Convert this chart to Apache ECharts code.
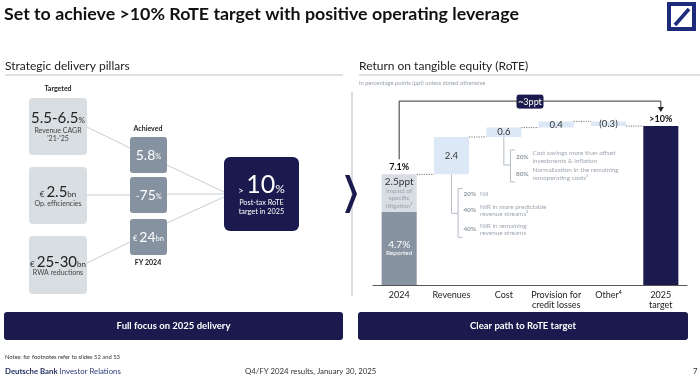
<!DOCTYPE html>
<html><head><meta charset="utf-8">
<script src="https://cdn.jsdelivr.net/npm/echarts@6/dist/echarts.min.js"></script>
<style>html,body{margin:0;padding:0;background:#fff}#c{width:700px;height:378px}</style>
</head><body><div id="c"></div>
<script>
// ---- data ----
const categories = ['2024', 'Revenues', 'Cost', 'Provision for\ncredit losses', 'Other⁴', '2025\ntarget'];
const rote2024 = 7.1;
const reported2024 = 4.7;
const litigationLabel = '2.5ppt';
const deltas = [2.4, 0.6, 0.4, -0.3];
const deltaLabels = ['2.4', '0.6', '0.4', '(0.3)'];
const target2025 = 10.2;
const targetLabel = '>10%';
const bridgeLabel = '~3ppt';
const revenueSplit = [['20%', 'NII'], ['40%', 'NIR in more predictable\nrevenue streams²'], ['40%', 'NIR in remaining\nrevenue streams']];
const costSplit = [['20%', 'Cost savings more than offset\ninvestments & inflation'], ['80%', 'Normalization in the remaining\nnonoperating costs³']];
const targetedPillars = [['5.5-6.5', '', '%', 'Revenue CAGR\n\'21-\'25'], ['2.5', '€ ', 'bn', 'Op. efficiencies'], ['25-30', '€ ', 'bn', 'RWA reductions']];
const achievedPillars = [['5.8', '', '%'], ['75', '~', '%'], ['24', '€ ', 'bn']];

// ---- build ----
const FF = 'Lato, "Noto Sans", sans-serif';
const NAVY = '#1a1a4e';
const r1 = v => Math.round(v * 10) / 10;
const n = categories.length;
const base = new Array(n).fill('-');
const deltaBars = new Array(n).fill('-');
const levels = [rote2024];
let run = rote2024;
deltas.forEach((d, i) => {
  const next = r1(run + d);
  base[i + 1] = Math.min(run, next);
  deltaBars[i + 1] = Math.abs(d);
  run = next; levels.push(run);
});
base[0] = 0; base[n - 1] = 0;
const repArr = new Array(n).fill('-'); repArr[0] = reported2024;
const litArr = new Array(n).fill('-'); litArr[0] = r1(rote2024 - reported2024);
const tgtArr = new Array(n).fill('-'); tgtArr[n - 1] = target2025;

const chart = echarts.init(document.getElementById('c'), null, {renderer: 'canvas'});
const option = {
  animation: false,
  grid: {left: 373, right: 13, top: 98, bottom: 93},
  xAxis: {type: 'category', data: categories,
    axisLine: {lineStyle: {color: '#555', width: 1}}, axisTick: {show: false},
    axisLabel: {color: '#222', fontSize: 9, lineHeight: 10, fontFamily: FF, margin: 5, interval: 0}},
  yAxis: {type: 'value', min: 0, max: 12, show: false, splitLine: {show: false}},
  series: [
    {type: 'bar', stack: 'w', data: base, barWidth: '67%', itemStyle: {color: 'transparent'}, silent: true},
    {type: 'bar', stack: 'w', data: repArr, barWidth: '67%', itemStyle: {color: '#8793a0'},
      label: {show: true, position: 'inside', formatter: '{a|' + reported2024.toFixed(1) + '%}\n{b|Reported}',
        rich: {a: {color: '#fff', fontSize: 10, fontFamily: FF, lineHeight: 10}, b: {color: '#fff', fontSize: 6.5, fontFamily: FF, lineHeight: 8}}}},
    {type: 'bar', stack: 'w', data: litArr, barWidth: '67%', itemStyle: {color: '#d7dde2'},
      label: {show: true, position: 'inside', formatter: '{a|' + litigationLabel + '}\n{b|Impact of}\n{b|specific}\n{b|litigation²}',
        rich: {a: {color: '#333', fontSize: 10, fontFamily: FF, lineHeight: 10}, b: {color: '#9aa3ac', fontSize: 6.3, fontFamily: FF, lineHeight: 7.5}}}},
    {type: 'bar', stack: 'w', data: deltaBars, barWidth: '67%', itemStyle: {color: '#dce8f6'},
      label: {show: true, position: 'inside', color: '#333', fontSize: 9.5, fontFamily: FF,
        formatter: p => deltaLabels[p.dataIndex - 1]}},
    {type: 'bar', stack: 'w', data: tgtArr, barWidth: '67%', itemStyle: {color: NAVY},
      label: {show: true, position: 'top', distance: 2, color: '#111', fontSize: 9, fontWeight: 'bold', fontFamily: FF, formatter: targetLabel}}
  ]
};
chart.setOption(option);

// ---- graphics ----
function T(x, y, text, o) { return {type: 'text', silent: true, z: 10, style: Object.assign({x, y, text, fill: '#222', fontFamily: FF, fontSize: 8, align: 'left', verticalAlign: 'middle'}, o || {})}; }
function R(x, y, w, h, fill, r, o) { return {type: 'rect', silent: true, z: 5, shape: {x, y, width: w, height: h, r: r || 0}, style: Object.assign({fill}, o || {})}; }
function L(x1, y1, x2, y2, stroke, o) { return {type: 'line', silent: true, z: 6, shape: {x1, y1, x2, y2}, style: Object.assign({stroke, lineWidth: 1}, o || {})}; }

const g = [];
// title & logo
g.push(T(4, 14, 'Set to achieve >10% RoTE target with positive operating leverage', {fontSize: 17.8, fontWeight: 'bold', fill: '#111'}));
g.push(R(669, 4, 25, 25, 'none', 0, {stroke: '#1e2a7a', lineWidth: 4}));
g.push(L(675, 25, 689, 9, '#1e2a7a', {lineWidth: 3.5}));
// section headers
g.push(T(5, 66, 'Strategic delivery pillars', {fontSize: 12, fill: '#222'}));
g.push(L(5, 75, 343, 75, '#d3d7db', {lineWidth: 1.5}));
g.push(T(359, 66, 'Return on tangible equity (RoTE)', {fontSize: 12, fill: '#222'}));
g.push(L(359, 75, 700, 75, '#d3d7db', {lineWidth: 1.5}));
g.push(T(359, 83, 'In percentage points (ppt) unless stated otherwise', {fontSize: 5.8, fill: '#9aa3ad'}));
// separator & chevron
g.push(L(352, 92, 352, 296, '#b5bcc4'));
g.push({type: 'polygon', silent: true, z: 7, shape: {points: [[345, 175], [349.5, 175], [357, 194], [349.5, 213], [345, 213], [352.5, 194]]}, style: {fill: NAVY}});

// left panel connectors
const lc = '#c8ced5';
g.push(L(87, 127, 130, 148, lc));
g.push(L(87, 195, 130, 195, lc));
g.push(L(87, 263, 130, 242, lc));
g.push(L(167, 165, 224, 192, lc));
g.push(L(167, 194, 224, 194, lc));
g.push(L(167, 223, 224, 197, lc));
// targeted
g.push(T(58, 89, 'Targeted', {fontSize: 7, fontWeight: 'bold', align: 'center'}));
const tBoxes = [[98, 57], [167, 57], [236, 58]];
const tMain = [118, 192, 262];
const tSub = [134.5, 204, 273];
tBoxes.forEach((b, i) => {
  g.push(R(29, b[0], 58, b[1], '#d8dee2', 4));
  const p = targetedPillars[i];
  g.push(T(58, tMain[i], (p[1] ? '{s|' + p[1] + '}' : '') + '{b|' + p[0] + '}{s|' + p[2] + '}', {align: 'center', verticalAlign: 'middle',
    rich: {b: {fontSize: 15, fill: '#222', fontFamily: FF, verticalAlign: 'bottom'}, s: {fontSize: 8, fill: '#333', fontFamily: FF, verticalAlign: 'bottom', padding: [0, 0, 1, 0]}}}));
  g.push(T(58, tSub[i], p[3], {align: 'center', fontSize: 7, fill: '#444', lineHeight: 8}));
});
// achieved
g.push(T(148, 129, 'Achieved', {fontSize: 7, fontWeight: 'bold', align: 'center'}));
const aBoxes = [137, 177, 219];
aBoxes.forEach((y, i) => {
  g.push(R(130, y, 37, 36, '#8692a0', 3));
  const p = achievedPillars[i];
  g.push(T(148.5, y + 18, (p[1] ? '{s|' + p[1] + '}' : '') + '{b|' + p[0] + '}{s|' + p[2] + '}', {align: 'center',
    rich: {b: {fontSize: 14, fill: '#fff', fontFamily: FF, verticalAlign: 'bottom'}, s: {fontSize: 7.5, fill: '#fff', fontFamily: FF, verticalAlign: 'bottom', padding: [0, 0, 1, 0]}}}));
});
g.push(T(148, 263, 'FY 2024', {fontSize: 7, fontWeight: 'bold', align: 'center'}));
// navy target box
g.push(R(224, 157, 75, 74, NAVY, 6));
g.push(T(261.5, 185, '{s|> }{b|10}{p|%}', {align: 'center',
  rich: {b: {fontSize: 25, fill: '#fff', fontFamily: FF, verticalAlign: 'bottom'}, s: {fontSize: 10, fill: '#fff', fontFamily: FF, verticalAlign: 'bottom', padding: [0, 0, 2, 0]}, p: {fontSize: 12, fill: '#fff', fontFamily: FF, verticalAlign: 'bottom', padding: [0, 0, 2, 0]}}}));
g.push(T(261.5, 207.5, 'Post-tax RoTE\ntarget in 2025', {align: 'center', fontSize: 7.3, fill: '#fff', lineHeight: 9}));

// banners
g.push(R(4, 312, 339, 28, NAVY, 3));
g.push(T(173.5, 326, 'Full focus on 2025 delivery', {align: 'center', fontSize: 9.5, fontWeight: 'bold', fill: '#fff'}));
g.push(R(358, 312, 330, 28, NAVY, 3));
g.push(T(523, 326, 'Clear path to RoTE target', {align: 'center', fontSize: 9.5, fontWeight: 'bold', fill: '#fff'}));
// footer
g.push(T(5, 357, 'Notes: for footnotes refer to slides 52 and 53', {fontSize: 5.8, fill: '#333'}));
g.push(T(5, 371, '{a|Deutsche Bank} {b|Investor Relations}', {rich: {a: {fontSize: 7.8, fontWeight: 'bold', fill: '#1e2a5e', fontFamily: FF}, b: {fontSize: 7.8, fill: '#2b3a7a', fontFamily: FF}}}));
g.push(T(245, 371, 'Q4/FY 2024 results, January 30, 2025', {fontSize: 7.8, fill: '#333'}));
g.push(T(693, 371, '7', {fontSize: 7.8, fill: '#333'}));

// chart-derived annotations
const px = (c, v) => chart.convertToPixel({seriesIndex: 0}, [c, v]);
const cw = px(1, 0)[0] - px(0, 0)[0];
const hw = cw * 0.335;
for (let i = 0; i < levels.length; i++) {
  const a = px(i, levels[i]), b = px(i + 1, levels[i]);
  g.push(L(a[0] + hw, a[1], b[0] - hw, b[1], '#777', {lineDash: [1.2, 1.2], lineWidth: 1}));
}
const top0 = px(0, rote2024);
g.push(T(top0[0], top0[1] - 7, rote2024.toFixed(1) + '%', {align: 'center', fontSize: 9, fontWeight: 'bold', fill: '#111'}));
const tgtTop = px(n - 1, target2025);
const bridgeY = px(0, 11.8)[1];
g.push({type: 'polyline', silent: true, z: 6, shape: {points: [[top0[0], top0[1] - 15], [top0[0], bridgeY], [tgtTop[0], bridgeY], [tgtTop[0], tgtTop[1] - 18]]}, style: {stroke: '#333', lineWidth: 1, fill: 'none'}});
g.push({type: 'polygon', silent: true, z: 6, shape: {points: [[tgtTop[0] - 3, tgtTop[1] - 19], [tgtTop[0] + 3, tgtTop[1] - 19], [tgtTop[0], tgtTop[1] - 14]]}, style: {fill: '#222'}});
const midX = (top0[0] + tgtTop[0]) / 2;
g.push(R(midX - 14, bridgeY - 7, 28, 15, NAVY, 3, {stroke: '#fff', lineWidth: 1}));
g.push(T(midX, bridgeY + 0.5, bridgeLabel, {align: 'center', fontSize: 9, fill: '#fff'}));

const bc = '#b3bbc4';
function bracket(cat, lvl, drop, y1, y2, items, textYs) {
  const p = px(cat, lvl);
  const bx = p[0] + 6.6;
  g.push(L(p[0], p[1], p[0], p[1] + drop, bc));
  g.push(L(p[0], p[1] + drop, bx, p[1] + drop, bc));
  g.push(L(bx, p[1] + y1, bx, p[1] + y2, bc));
  g.push(L(bx, p[1] + y1, bx + 4.5, p[1] + y1, bc));
  g.push(L(bx, p[1] + y2, bx + 4.5, p[1] + y2, bc));
  items.forEach((it, k) => {
    const y = p[1] + textYs[k];
    g.push(T(bx + 5.5, y, it[0], {fontSize: 6.4, fontWeight: 'bold', fill: '#8f98a2'}));
    g.push(T(bx + 22, y, it[1], {fontSize: 6.4, fill: '#9ea7b0', lineHeight: 7.3}));
  });
}
bracket(1, levels[0], 39, 14, 63, revenueSplit, [20, 36, 55]);
bracket(2, levels[1], 28, 13, 45, costSplit, [20, 37]);

chart.setOption({graphic: {elements: g}});
</script></body></html>
